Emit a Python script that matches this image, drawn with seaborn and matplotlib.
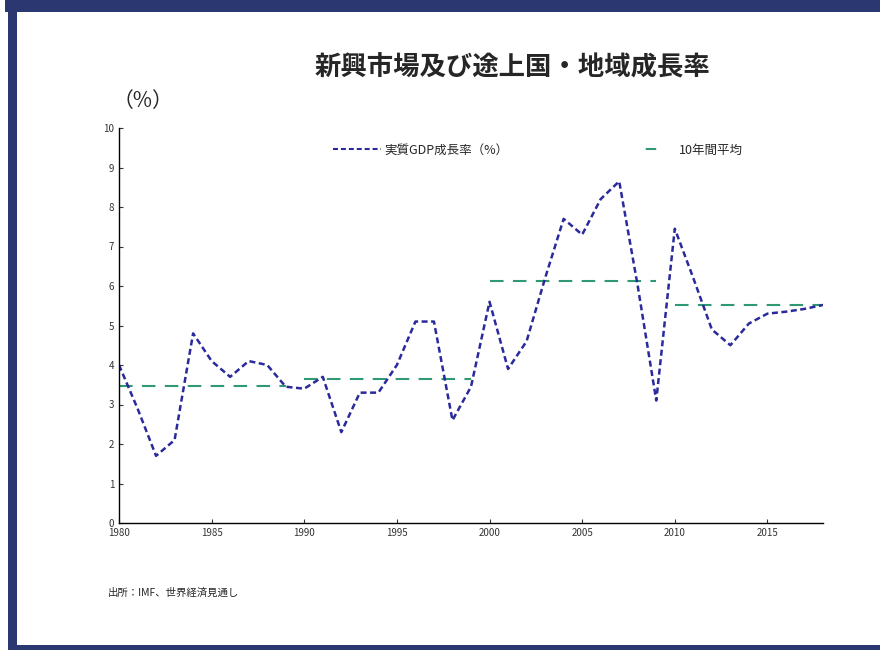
import pandas as pd
import numpy as np
import seaborn as sns
import matplotlib.pyplot as plt
from matplotlib.patches import Rectangle
from matplotlib.lines import Line2D

## Data
years = list(range(1980, 2019))
gdp_growth = [4.0, 2.9, 1.7, 2.1, 4.8, 4.1, 3.7, 4.1, 4.0, 3.45,
              3.4, 3.7, 2.3, 3.3, 3.3, 4.0, 5.1, 5.1, 2.6, 3.45,
              5.6, 3.9, 4.6, 6.2, 7.7, 7.3, 8.2, 8.65, 6.0, 3.1,
              7.45, 6.2, 4.9, 4.5, 5.05, 5.3, 5.35, 5.42, 5.52]

# 10-year averages
avg_periods = ['1980s', '1990s', '2000s', '2010s']
avg_start = [1980, 1990, 2000, 2010]
avg_end = [1989, 1999, 2009, 2018]
avg_values = [3.48, 3.65, 6.13, 5.52]

title = '新興市場及び途上国・地域成長率'
gdp_label = '実質GDP成長率（%）'
avg_label = '10年間平均'
source = '出所：IMF、世界経済見通し'

sns.set_theme(style='ticks')
plt.rcParams['font.family'] = ['Noto Sans CJK JP', 'DejaVu Sans']

gdp = pd.DataFrame({'year': years, 'growth': gdp_growth})
avg = pd.DataFrame({
    'period': avg_periods * 2,
    'year': avg_start + avg_end,
    'growth': avg_values * 2,
})

blue = '#2a2a9c'
green = '#2f9a72'
navy = '#2b3770'

fig = plt.figure(figsize=(8.8, 6.5), dpi=100)
# navy frame: top, left and bottom edges
for x0, y0, w, h in [(5, 638, 875, 12), (8, 0, 9, 650), (8, 0, 872, 5)]:
    fig.patches.append(Rectangle((x0 / 880, y0 / 650), w / 880, h / 650,
                                 transform=fig.transFigure, facecolor=navy,
                                 edgecolor='none', zorder=-1))

ax = fig.add_axes([119 / 880, 1 - 523 / 650, 704 / 880, 395 / 650])
ax.patch.set_alpha(0)

sns.lineplot(data=avg, x='year', y='growth', units='period', estimator=None,
             color=green, lw=1.5, ax=ax, legend=False)
for ln in ax.lines:
    ln.set_linestyle((0, (6.5, 4.5)))

sns.lineplot(data=gdp, x='year', y='growth', color=blue, lw=1.8, ax=ax,
             legend=False)
ax.lines[-1].set_linestyle((0, (2.4, 1.4)))

ax.set_xlim(1980, 2018)
ax.set_ylim(0, 10)
ax.set_xticks(range(1980, 2016, 5))
ax.set_yticks(range(0, 11))
ax.set_xlabel('')
ax.set_ylabel('')
ax.tick_params(direction='in', labelsize=7, length=3, width=0.8, colors='#333333',
               labelcolor='#333333')
for s in ['left', 'bottom']:
    ax.spines[s].set_color('black')
    ax.spines[s].set_linewidth(1)
sns.despine(ax=ax)

handles = [Line2D([], [], color=blue, lw=1.5, ls=(0, (2.4, 1.4))),
           Line2D([], [], color=green, lw=1.5, ls=(36, (5, 40)))]
ax.legend(handles, [gdp_label, avg_label], ncol=2, frameon=False,
          loc='center', bbox_to_anchor=(0.595, 0.944), fontsize=9,
          handlelength=3.8, handletextpad=0.3, columnspacing=9.5)

fig.text(0.582, 0.895, title, ha='center', va='center', fontsize=19,
         fontweight='bold')
fig.text(0.163, 0.845, '（%）', ha='center', va='center', fontsize=15)
fig.text(0.123, 0.088, source, ha='left', va='center', fontsize=7.5)

plt.savefig('out.png', dpi=100)
